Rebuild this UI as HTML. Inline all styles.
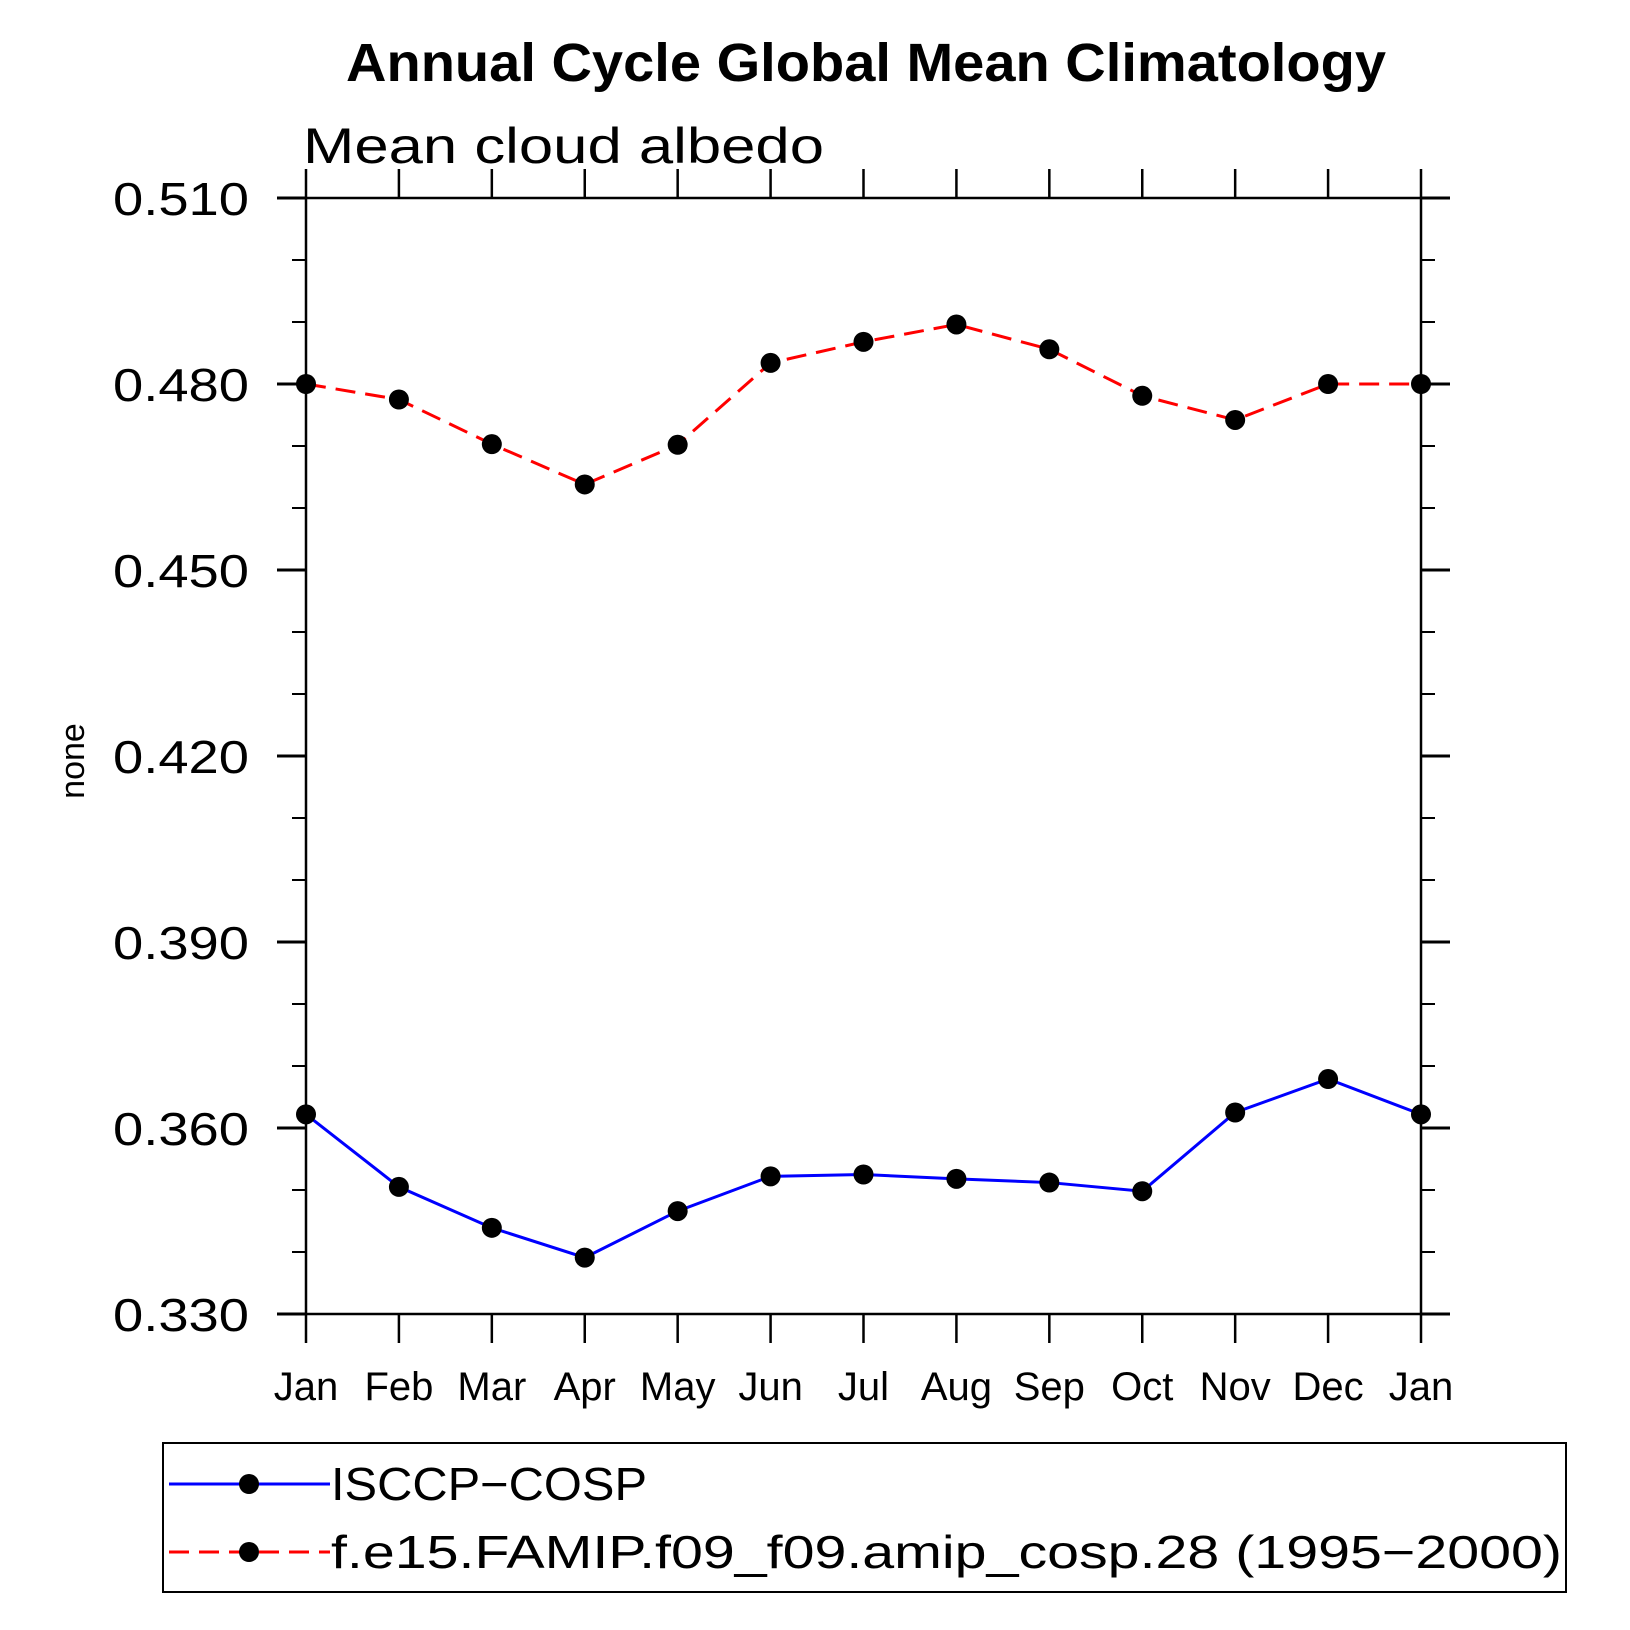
<!DOCTYPE html>
<html><head><meta charset="utf-8"><style>
html,body{margin:0;padding:0;background:#fff;}
svg{display:block;}
text{font-family:"Liberation Sans",sans-serif;}
</style></head><body>
<svg id="chart" width="1630" height="1630" viewBox="0 0 1630 1630" xmlns="http://www.w3.org/2000/svg">
<text x="866" y="81" font-size="54" font-weight="bold" text-anchor="middle" textLength="1040" lengthAdjust="spacingAndGlyphs">Annual Cycle Global Mean Climatology</text>
<text x="303" y="163" font-size="50" textLength="521" lengthAdjust="spacingAndGlyphs">Mean  cloud  albedo</text>
<text transform="translate(84,761) rotate(-90)" font-size="34" text-anchor="middle">none</text>
<g id="axes"></g>
<g id="series"></g>
<g id="legend">
<rect x="163" y="1443" width="1403" height="149" fill="none" stroke="#000" stroke-width="2"/>
<g>
<line x1="169" y1="1484" x2="330" y2="1484" stroke="#0000ff" stroke-width="3"/>
<circle cx="249" cy="1484" r="10" fill="#000"/>
<text x="331" y="1500" font-size="46" textLength="316" lengthAdjust="spacingAndGlyphs">ISCCP−COSP</text>
</g>
<g>
<line x1="169" y1="1552" x2="330" y2="1552" stroke="#ff0000" stroke-width="3" stroke-dasharray="20,10"/>
<circle cx="249" cy="1552" r="10" fill="#000"/>
<text x="331" y="1568" font-size="46" textLength="1231" lengthAdjust="spacingAndGlyphs">f.e15.FAMIP.f09_f09.amip_cosp.28 (1995−2000)</text>
</g>
</g>
</svg>
<script>
const months = ["Jan","Feb","Mar","Apr","May","Jun","Jul","Aug","Sep","Oct","Nov","Dec","Jan"];
const isccpValues = [0.3622,0.3505,0.3439,0.3391,0.3466,0.3522,0.3525,0.3518,0.3512,0.3498,0.3625,0.3679,0.3622];
const modelValues = [0.4800,0.4775,0.4703,0.4638,0.4702,0.4834,0.4868,0.4896,0.4856,0.4781,0.4742,0.4800,0.4800];
const yTicks = [0.330,0.360,0.390,0.420,0.450,0.480,0.510];
const yTickLabels = ["0.330","0.360","0.390","0.420","0.450","0.480","0.510"];

const NS="http://www.w3.org/2000/svg";
const L=306,R=1421,T=198,B=1314,yMin=0.33,yMax=0.51;
const xs=i=>L+(R-L)*i/(months.length-1);
const ys=v=>B-(B-T)*(v-yMin)/(yMax-yMin);
function mk(tag,attrs,parent){const e=document.createElementNS(NS,tag);for(const k in attrs)e.setAttribute(k,attrs[k]);parent.appendChild(e);return e;}
const axes=document.getElementById('axes');
const frame=mk('rect',{x:L,y:T,width:R-L,height:B-T,fill:'none',stroke:'#000','stroke-width':2.5},axes);


months.forEach((m,i)=>{
  const x=xs(i);
  const t1=mk('line',{x1:x,y1:B,x2:x,y2:B+29,stroke:'#000','stroke-width':2.5},axes);
  
  
  const t2=mk('line',{x1:x,y1:T,x2:x,y2:T-29,stroke:'#000','stroke-width':2.5},axes);
  
  
  const lb=mk('text',{x:x,y:1400,'font-size':40,'text-anchor':'middle'},axes);
  lb.textContent=m;
  
  
});
yTicks.forEach((v,i)=>{
  const y=ys(v);
  const a=mk('line',{x1:L-29,y1:y,x2:L,y2:y,stroke:'#000','stroke-width':3},axes);
  
  
  const b=mk('line',{x1:R,y1:y,x2:R+29,y2:y,stroke:'#000','stroke-width':3},axes);
  
  
  const lb=mk('text',{x:249,y:y+17,'font-size':46,'text-anchor':'end',textLength:136,lengthAdjust:'spacingAndGlyphs'},axes);
  lb.textContent=yTickLabels[i];
  
  
  if(i<yTicks.length-1){
    for(let k=1;k<3;k++){
      const yy=ys(v+(yTicks[i+1]-v)*k/3);
      const m1=mk('line',{x1:L-14,y1:yy,x2:L,y2:yy,stroke:'#000','stroke-width':2},axes);
      
      
      const m2=mk('line',{x1:R,y1:yy,x2:R+14,y2:yy,stroke:'#000','stroke-width':2},axes);
      
      
    }
  }
});
const ser=document.getElementById('series');
function drawSeries(vals,color,dash,name){
  const g=mk('g',{},ser);
  
  
  const p=mk('polyline',{points:vals.map((v,i)=>xs(i)+','+ys(v)).join(' '),fill:'none',stroke:color,'stroke-width':3},g);
  if(dash)p.setAttribute('stroke-dasharray',dash);
  
  
  vals.forEach((v,i)=>{
    const c=mk('circle',{cx:xs(i),cy:ys(v),r:10,fill:'#000'},g);
    
    
  });
}
drawSeries(modelValues,'#ff0000','20,10','model-series');
drawSeries(isccpValues,'#0000ff',null,'isccp-series');
</script>
</body></html>
